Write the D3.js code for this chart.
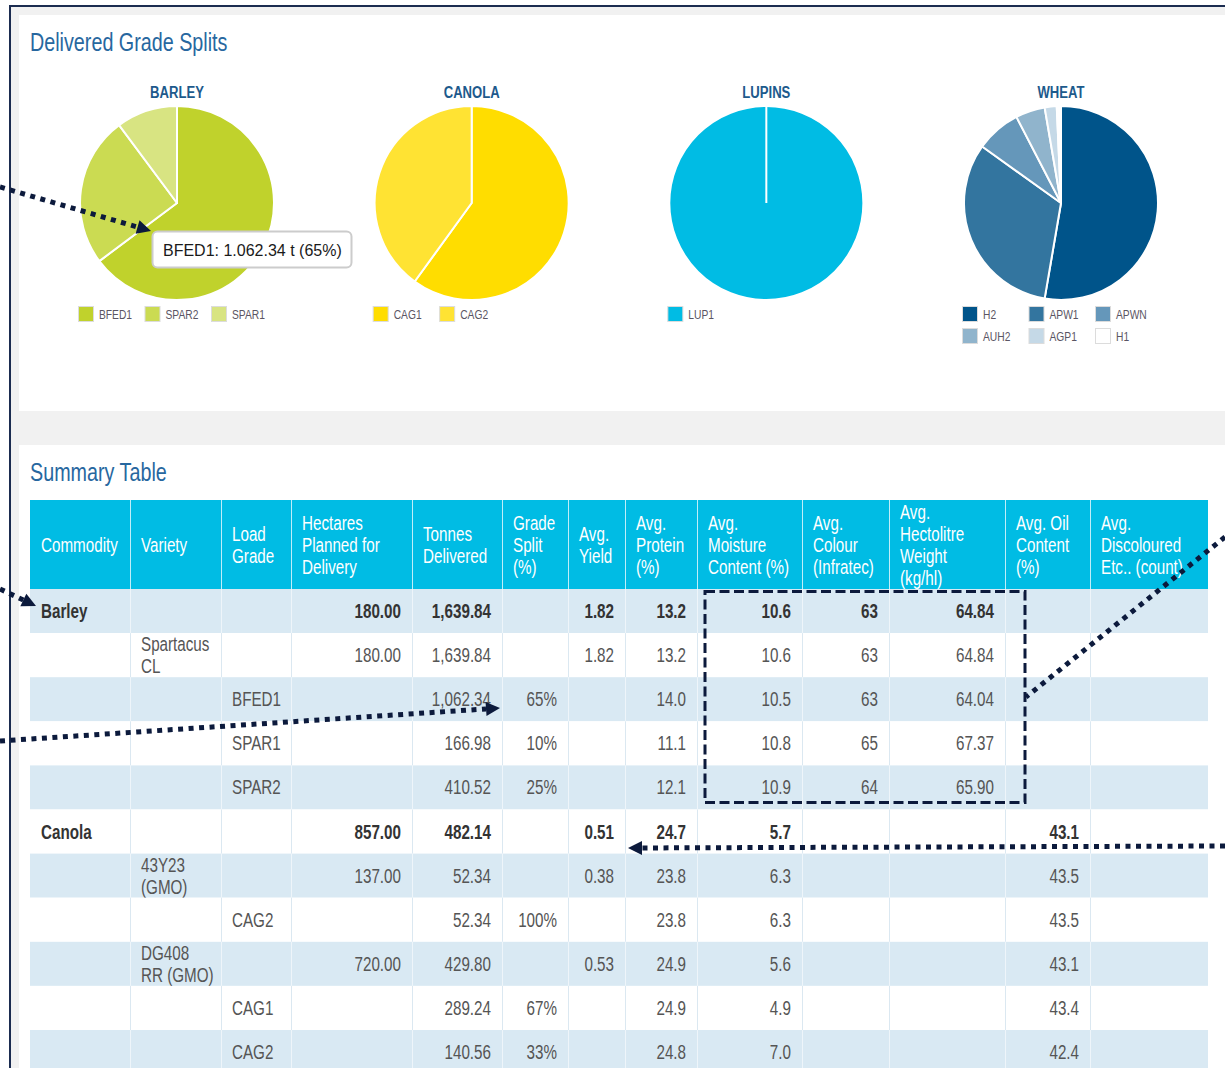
<!DOCTYPE html>
<html>
<head>
<meta charset="utf-8">
<script src="https://cdn.jsdelivr.net/npm/d3@7"></script>
<style>
  body { margin: 0; background: #fff; overflow: hidden; }
  text { font-family: "Liberation Sans", Arial, sans-serif; }
</style>
</head>
<body>
<div id="wrapper"></div>
<script>
// ---- data ----
const barleyGrades = ["BFED1", "SPAR2", "SPAR1"];
const barleyTonnes = [1062.34, 410.52, 166.98];
const canolaGrades = ["CAG1", "CAG2"];
const canolaTonnes = [289.24, 192.90];
const lupinGrades = ["LUP1"];
const lupinShare = [100];
const wheatGrades = ["H2", "APW1", "APWN", "AUH2", "AGP1", "H1"];
const wheatShare = [52.7, 32.2, 7.5, 4.9, 2.0, 0.7];

const tableHeaders = [
  ["Commodity"], ["Variety"], ["Load", "Grade"], ["Hectares", "Planned for", "Delivery"],
  ["Tonnes", "Delivered"], ["Grade", "Split", "(%)"], ["Avg.", "Yield"], ["Avg.", "Protein", "(%)"],
  ["Avg.", "Moisture", "Content (%)"], ["Avg.", "Colour", "(Infratec)"],
  ["Avg.", "Hectolitre", "Weight", "(kg/hl)"], ["Avg. Oil", "Content", "(%)"],
  ["Avg.", "Discoloured", "Etc.. (count)"]
];
// commodity, variety (lines), grade, hectares, tonnes, split, yield, protein, moisture, colour, hlw, oil, discoloured
const tableRows = [
  ["Barley", [], "", "180.00", "1,639.84", "", "1.82", "13.2", "10.6", "63", "64.84", "", ""],
  ["", ["Spartacus", "CL"], "", "180.00", "1,639.84", "", "1.82", "13.2", "10.6", "63", "64.84", "", ""],
  ["", [], "BFED1", "", "1,062.34", "65%", "", "14.0", "10.5", "63", "64.04", "", ""],
  ["", [], "SPAR1", "", "166.98", "10%", "", "11.1", "10.8", "65", "67.37", "", ""],
  ["", [], "SPAR2", "", "410.52", "25%", "", "12.1", "10.9", "64", "65.90", "", ""],
  ["Canola", [], "", "857.00", "482.14", "", "0.51", "24.7", "5.7", "", "", "43.1", ""],
  ["", ["43Y23", "(GMO)"], "", "137.00", "52.34", "", "0.38", "23.8", "6.3", "", "", "43.5", ""],
  ["", [], "CAG2", "", "52.34", "100%", "", "23.8", "6.3", "", "", "43.5", ""],
  ["", ["DG408", "RR (GMO)"], "", "720.00", "429.80", "", "0.53", "24.9", "5.6", "", "", "43.1", ""],
  ["", [], "CAG1", "", "289.24", "67%", "", "24.9", "4.9", "", "", "43.4", ""],
  ["", [], "CAG2", "", "140.56", "33%", "", "24.8", "7.0", "", "", "42.4", ""]
];
const totalRows = [0, 5];

// ---- styles ----
const barleyColors = ["#c0d22c", "#cbdb52", "#d8e482"];
const canolaColors = ["#ffdd00", "#ffe333"];
const lupinColors = ["#00bce4"];
const wheatColors = ["#00548a", "#33759f", "#6597ba", "#90b4cc", "#c5d9e7", "#ffffff"];
const navy = "#0c1a3c";

const width = 1225, height = 1068;

const svg = d3.select("#wrapper").append("svg")
  .attr("width", width)
  .attr("height", height);

// condensed text: no narrow font installed, so squeeze a normal one horizontally
function label(parent, x, y, txt, o) {
  return parent.append("text")
    .attr("transform", `translate(${x},${y}) scale(${o.sx || 0.78},1)`)
    .attr("text-anchor", o.anchor || "start")
    .attr("font-size", o.size)
    .attr("font-weight", o.weight || "normal")
    .attr("fill", o.fill)
    .text(txt);
}

// frame + panels
svg.append("rect").attr("x", 10).attr("y", 6).attr("width", 1400).attr("height", 1200)
  .attr("fill", "#f1f1f1").attr("stroke", "#1b2c50").attr("stroke-width", 2);
svg.append("rect").attr("x", 19).attr("y", 15).attr("width", 1300).attr("height", 396).attr("fill", "#fff");
svg.append("rect").attr("x", 19).attr("y", 445).attr("width", 1300).attr("height", 700).attr("fill", "#fff");

label(svg, 30, 51, "Delivered Grade Splits", { size: 25, sx: 0.79, fill: "#27679f" });
label(svg, 30, 481, "Summary Table", { size: 25, sx: 0.79, fill: "#27679f" });

// ---- pies ----
const pies = [
  { name: "BARLEY", grades: barleyGrades, values: barleyTonnes, colors: barleyColors },
  { name: "CANOLA", grades: canolaGrades, values: canolaTonnes, colors: canolaColors },
  { name: "LUPINS", grades: lupinGrades, values: lupinShare, colors: lupinColors },
  { name: "WHEAT", grades: wheatGrades, values: wheatShare, colors: wheatColors }
];

const xPie = d3.scalePoint().domain(pies.map(p => p.name)).range([177, 1061]);
const pieY = 203, radius = 97;
const pieGen = d3.pie().sort(null).value(d => d.value);
const arcGen = d3.arc().innerRadius(0).outerRadius(radius);

pies.forEach(p => {
  const cx = xPie(p.name);
  const items = p.grades.map((g, i) => ({ grade: g, value: p.values[i], color: p.colors[i] }));
  const g = svg.append("g").attr("transform", `translate(${cx},${pieY})`);

  label(svg, cx, 98, p.name, { size: 17, sx: 0.77, weight: "bold", anchor: "middle", fill: "#1d5a8c" });

  const arcs = pieGen(items);
  g.selectAll("path").data(arcs).join("path")
    .attr("d", arcGen)
    .attr("fill", d => d.data.color)
    .attr("stroke", "#fff").attr("stroke-width", 2).attr("stroke-linejoin", "round");

  if (arcs.length === 1) {
    const a = arcs[0].startAngle;
    g.append("line").attr("x1", 0).attr("y1", 0)
      .attr("x2", radius * Math.sin(a)).attr("y2", -radius * Math.cos(a))
      .attr("stroke", "#fff").attr("stroke-width", 2);
  }

  const leg = svg.append("g").attr("transform", `translate(${cx - 99},306)`)
    .selectAll("g").data(items).join("g")
    .attr("transform", (d, i) => `translate(${(i % 3) * 66.5},${Math.floor(i / 3) * 22})`);
  leg.append("rect").attr("x", 0.5).attr("y", 0.5).attr("width", 15).attr("height", 15)
    .attr("fill", d => d.color).attr("stroke", "#dcdcdc").attr("stroke-width", 1);
  leg.each(function (d) {
    label(d3.select(this), 21, 12.5, d.grade, { size: 13, sx: 0.79, fill: "#5a5563" });
  });
});

// ---- table ----
const colWidths = [100, 91, 70, 121, 90, 66, 57, 72, 105, 87, 116, 85, 118];
const tableLeft = 30;
const colX = colWidths.reduce((acc, w) => { acc.push(acc[acc.length - 1] + w); return acc; }, [tableLeft]);
const tableRight = colX[colX.length - 1];
const headTop = 500, headBottom = 589;
const y = d3.scaleBand().domain(d3.range(tableRows.length))
  .range([headBottom, headBottom + tableRows.length * 44.1]);
const rowH = y.bandwidth();
const lineH = 22;
const rightAligned = c => c >= 3;
const fontT = 19.5, sxT = 0.78;

const table = svg.append("g");
table.append("rect").attr("x", tableLeft).attr("y", headTop)
  .attr("width", tableRight - tableLeft).attr("height", headBottom - headTop)
  .attr("fill", "#00bce4");
table.selectAll(".hsep").data(colX.slice(1, -1)).join("line")
  .attr("x1", d => d + 0.5).attr("x2", d => d + 0.5)
  .attr("y1", headTop).attr("y2", headBottom)
  .attr("stroke", "#bfeef9").attr("stroke-width", 1);

tableHeaders.forEach((lines, c) => {
  const mid = (headTop + headBottom) / 2;
  lines.forEach((l, k) => {
    label(table, colX[c] + 11, mid + (k - (lines.length - 1) / 2) * lineH + 7,
      l, { size: fontT, sx: sxT, fill: "#fff" });
  });
});

const rows = table.selectAll(".row").data(tableRows).join("g")
  .attr("class", "row")
  .attr("transform", (d, i) => `translate(0,${y(i)})`);
rows.append("rect").attr("x", tableLeft).attr("width", tableRight - tableLeft).attr("height", rowH)
  .attr("fill", (d, i) => i % 2 === 0 ? "#d9e9f3" : "#fff");
rows.each(function (d, i) {
  const r = d3.select(this);
  r.selectAll("line").data(colX.slice(1, -1)).join("line")
    .attr("x1", x => x + 0.5).attr("x2", x => x + 0.5)
    .attr("y1", 0).attr("y2", rowH)
    .attr("stroke", i % 2 === 0 ? "#eef5fa" : "#dbe8f1").attr("stroke-width", 1);
  const bold = totalRows.includes(i);
  d.forEach((cell, c) => {
    const lines = Array.isArray(cell) ? cell : (cell ? [cell] : []);
    lines.forEach((l, k) => {
      label(r, rightAligned(c) ? colX[c + 1] - 11 : colX[c] + 11,
        rowH / 2 + (k - (lines.length - 1) / 2) * lineH + 7, l,
        { size: fontT, sx: sxT, anchor: rightAligned(c) ? "end" : "start",
          weight: bold ? "bold" : "normal", fill: bold ? "#333" : "#555" });
    });
  });
});

// ---- annotations ----
const ann = svg.append("g");
ann.append("rect")
  .attr("x", colX[8] + 8).attr("y", y(0) + 2.5)
  .attr("width", colX[11] + 20 - (colX[8] + 8)).attr("height", y(4) + rowH - 7 - (y(0) + 2.5))
  .attr("fill", "none").attr("stroke", navy).attr("stroke-width", 3)
  .attr("stroke-dasharray", "10 4.5");

function dotted(x1, y1, x2, y2, head) {
  const ang = Math.atan2(y2 - y1, x2 - x1);
  const hl = head ? 14 : 0;
  ann.append("line")
    .attr("x1", x1).attr("y1", y1)
    .attr("x2", x2 - hl * Math.cos(ang)).attr("y2", y2 - hl * Math.sin(ang))
    .attr("stroke", navy).attr("stroke-width", 5).attr("stroke-dasharray", "5 5.5");
  if (head) {
    const bx = x2 - hl * Math.cos(ang), by = y2 - hl * Math.sin(ang);
    const px = -Math.sin(ang) * 7, py = Math.cos(ang) * 7;
    ann.append("path")
      .attr("d", `M${x2},${y2}L${bx + px},${by + py}L${bx - px},${by - py}Z`)
      .attr("fill", navy);
  }
}

// tooltip
const tip = svg.append("g").attr("transform", "translate(152,231)");
tip.append("rect").attr("x", 0.5).attr("y", 0.5).attr("width", 199).attr("height", 36).attr("rx", 5)
  .attr("fill", "#fff").attr("stroke", "#cccccc").attr("stroke-width", 2);
const barleyTotal = d3.sum(barleyTonnes);
tip.append("text").attr("x", 11).attr("y", 24.5)
  .attr("font-size", 16).attr("fill", "#1a1a1a")
  .text(`${barleyGrades[0]}: ${d3.format(",.2f")(barleyTonnes[0]).replace(/,/g, ".")} t (${Math.round(barleyTonnes[0] / barleyTotal * 100)}%)`);

dotted(0, 187, 151, 231, true);
dotted(0, 589, 36, 606, true);
dotted(0, 741, 500, 708, true);
dotted(1225, 537, 1026, 697, false);
dotted(1225, 846, 628, 848, true);
</script>
</body>
</html>
